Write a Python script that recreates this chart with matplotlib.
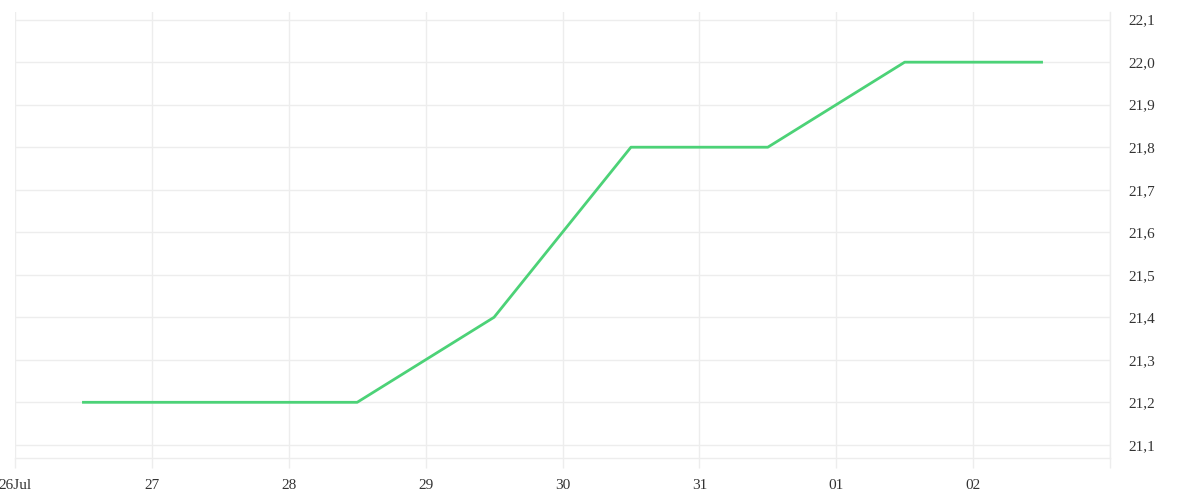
import matplotlib
matplotlib.use("Agg")
import matplotlib.pyplot as plt
from datetime import datetime, timedelta

# Data (daily values plotted at midday)
dates = [datetime(2024, 7, 26, 12) + timedelta(days=i) for i in range(8)]
values = [21.2, 21.2, 21.2, 21.4, 21.8, 21.8, 22.0, 22.0]

tick_days = [datetime(2024, 7, 26) + timedelta(days=i) for i in range(9)]
tick_labels = ["26Jul", "27", "28", "29", "30", "31", "01", "02", ""]
y_ticks = [21.1, 21.2, 21.3, 21.4, 21.5, 21.6, 21.7, 21.8, 21.9, 22.0, 22.1]

grid_col = "#ededed"
text_col = "#333333"
line_col = "#4cd277"

plt.rcParams['font.family'] = ['Liberation Serif', 'DejaVu Serif']

fig = plt.figure(figsize=(12, 5), dpi=100)
ax = fig.add_axes([15 / 1200, 42 / 500, 1095 / 1200, 446 / 500])

ax.plot(dates, values, color=line_col, linewidth=2.0)

ax.set_xlim(tick_days[0], tick_days[-1])
ax.set_ylim(21.069, 22.118)

ax.set_xticks(tick_days)
ax.set_xticklabels(tick_labels)
ax.set_yticks(y_ticks)
ax.set_yticklabels([f"{v:.1f}".replace(".", ",") for v in y_ticks])

ax.yaxis.tick_right()
ax.tick_params(axis='y', length=0, pad=13, labelsize=11, labelcolor=text_col)
ax.tick_params(axis='x', length=7.2, width=1, color=grid_col, pad=8,
               labelsize=11, labelcolor=text_col)
for lbl in ax.get_yticklabels():
    lbl.set_horizontalalignment('left')

ax.grid(True, color=grid_col, linewidth=1)
ax.set_axisbelow(True)

for side in ['top', 'left']:
    ax.spines[side].set_visible(False)
for side in ['bottom', 'right']:
    ax.spines[side].set_color(grid_col)
    ax.spines[side].set_linewidth(1)

fig.savefig("out.png", dpi=100, facecolor="white")
